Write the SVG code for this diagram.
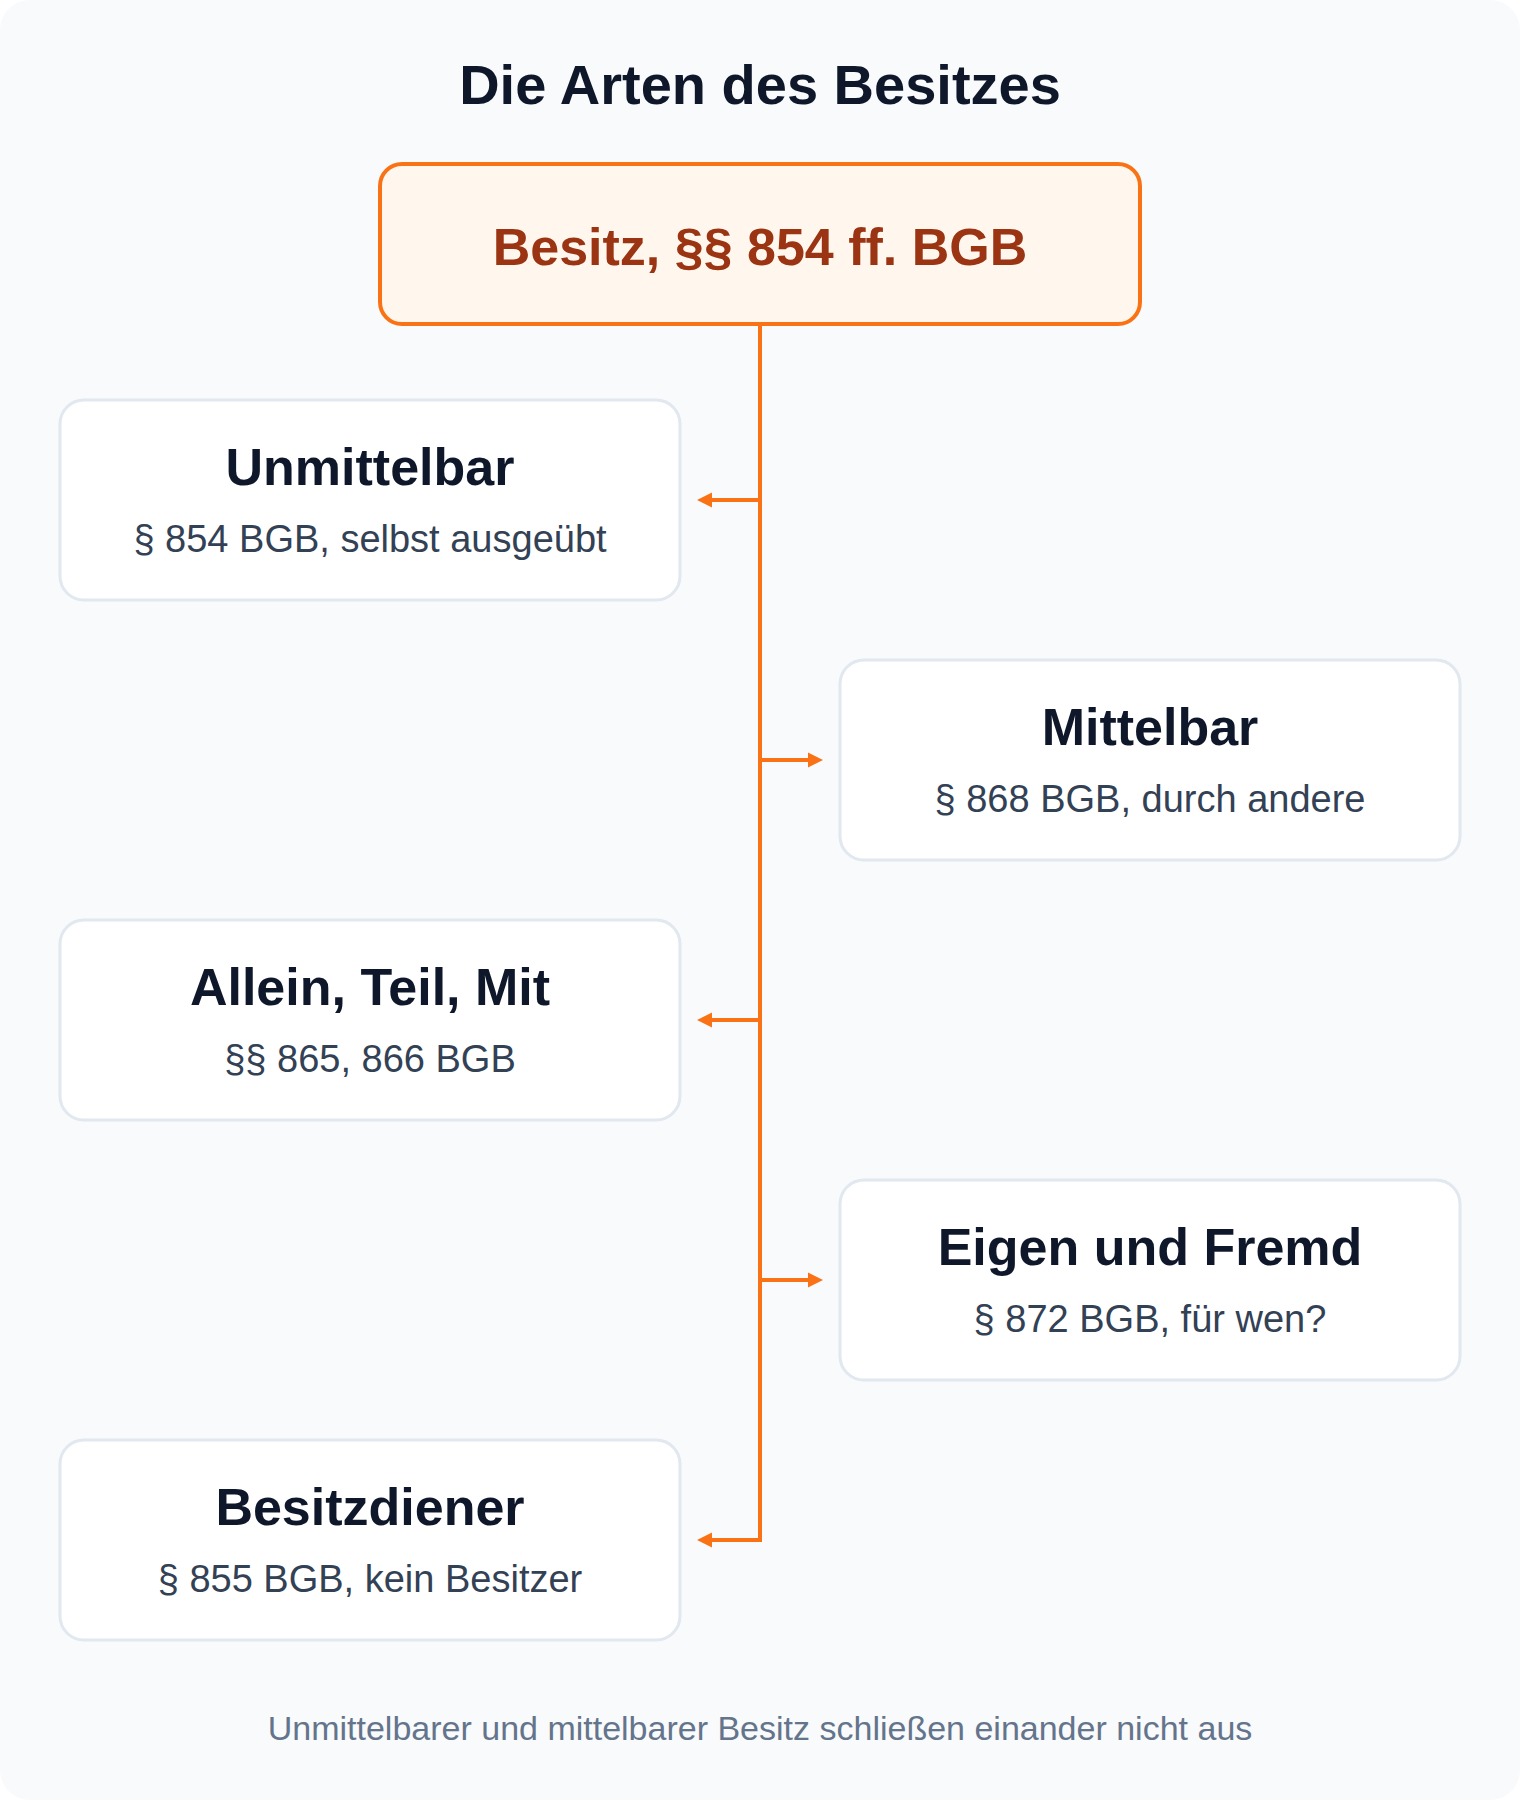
<svg xmlns="http://www.w3.org/2000/svg" width="1520" height="1810" viewBox="0 0 1520 1810">
  <defs>
    <style>
      text { font-family: "Liberation Sans", Arial, Helvetica, sans-serif; text-anchor: middle; }
      .title { font-size: 56px; font-weight: bold; fill: #0f172a; }
      .root-box { fill: #fff7ed; stroke: #f97316; stroke-width: 4; }
      .root-text { font-size: 52px; font-weight: bold; fill: #9a3412; }
      .node-box { fill: #ffffff; stroke: #e2e8f0; stroke-width: 3; }
      .node-title { font-size: 52px; font-weight: bold; fill: #0f172a; }
      .node-sub { font-size: 38px; fill: #334155; }
      .footer { font-size: 34px; fill: #64748b; }
      .edge { fill: none; stroke: #f97316; stroke-width: 4; stroke-linejoin: miter; }
    </style>
    <marker id="arrow" markerUnits="userSpaceOnUse" markerWidth="15" markerHeight="15" refX="0" refY="7.5" orient="auto" overflow="visible">
      <path d="M0,0 L15,7.5 L0,15 Z" fill="#f97316"/>
    </marker>
  </defs>

  <rect x="0" y="0" width="1520" height="1810" fill="#ffffff"/>
  <rect x="0" y="0" width="1520" height="1800" rx="30" ry="30" fill="#f8fafc"/>

  <text class="title" x="760" y="104">Die Arten des Besitzes</text>

  <g id="connectors">
    <path class="edge" d="M760 324 V500 H712" marker-end="url(#arrow)"/>
    <path class="edge" d="M760 324 V760 H808" marker-end="url(#arrow)"/>
    <path class="edge" d="M760 324 V1020 H712" marker-end="url(#arrow)"/>
    <path class="edge" d="M760 324 V1280 H808" marker-end="url(#arrow)"/>
    <path class="edge" d="M760 324 V1540 H712" marker-end="url(#arrow)"/>
  </g>

  <g id="root">
    <rect class="root-box" x="380" y="164" width="760" height="160" rx="22" ry="22"/>
    <text class="root-text" x="760" y="265">Besitz, §§ 854 ff. BGB</text>
  </g>

  <g id="unmittelbar">
    <rect class="node-box" x="60" y="400" width="620" height="200" rx="24" ry="24"/>
    <text class="node-title" x="370" y="485">Unmittelbar</text>
    <text class="node-sub" x="370" y="552">§ 854 BGB, selbst ausgeübt</text>
  </g>

  <g id="mittelbar">
    <rect class="node-box" x="840" y="660" width="620" height="200" rx="24" ry="24"/>
    <text class="node-title" x="1150" y="745">Mittelbar</text>
    <text class="node-sub" x="1150" y="812">§ 868 BGB, durch andere</text>
  </g>

  <g id="allein-teil-mit">
    <rect class="node-box" x="60" y="920" width="620" height="200" rx="24" ry="24"/>
    <text class="node-title" x="370" y="1005">Allein, Teil, Mit</text>
    <text class="node-sub" x="370" y="1072">§§ 865, 866 BGB</text>
  </g>

  <g id="eigen-fremd">
    <rect class="node-box" x="840" y="1180" width="620" height="200" rx="24" ry="24"/>
    <text class="node-title" x="1150" y="1265">Eigen und Fremd</text>
    <text class="node-sub" x="1150" y="1332">§ 872 BGB, für wen?</text>
  </g>

  <g id="besitzdiener">
    <rect class="node-box" x="60" y="1440" width="620" height="200" rx="24" ry="24"/>
    <text class="node-title" x="370" y="1525">Besitzdiener</text>
    <text class="node-sub" x="370" y="1592">§ 855 BGB, kein Besitzer</text>
  </g>

  <text class="footer" x="760" y="1740">Unmittelbarer und mittelbarer Besitz schließen einander nicht aus</text>
</svg>
